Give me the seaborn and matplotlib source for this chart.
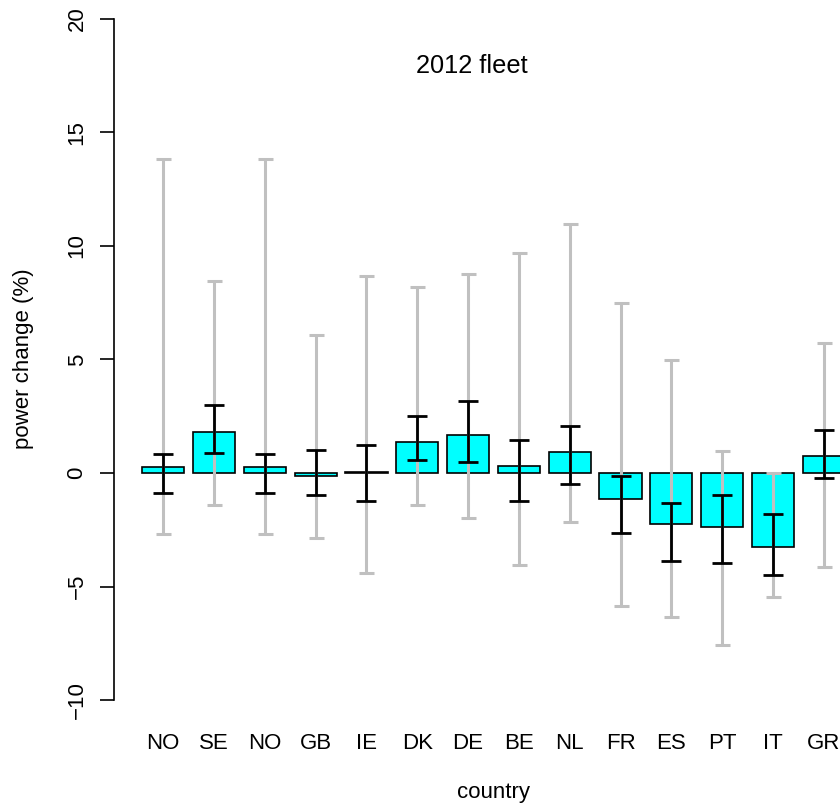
import matplotlib
matplotlib.use('Agg')
import matplotlib.pyplot as plt
import pandas as pd
import seaborn as sns

# Values
countries = ['NO', 'SE', 'NO', 'GB', 'IE', 'DK', 'DE', 'BE', 'NL', 'FR', 'ES', 'PT', 'IT', 'GR']
change = [0.26, 1.82, 0.26, -0.15, 0.03, 1.37, 1.66, 0.31, 0.91, -1.15, -2.25, -2.38, -3.26, 0.75]
ci_low = [-0.89, 0.89, -0.89, -0.98, -1.22, 0.57, 0.47, -1.22, -0.48, -2.66, -3.89, -3.95, -4.51, -0.22]
ci_high = [0.82, 3.01, 0.82, 1.00, 1.23, 2.52, 3.19, 1.44, 2.06, -0.15, -1.32, -0.96, -1.81, 1.89]
range_low = [-2.67, -1.40, -2.67, -2.85, -4.39, -1.42, -1.98, -4.05, -2.17, -5.85, -6.36, -7.59, -5.45, -4.13]
range_high = [13.82, 8.44, 13.82, 6.07, 8.68, 8.19, 8.78, 9.68, 10.98, 7.49, 4.98, 0.98, 0.0, 5.73]

df = pd.DataFrame({'pos': range(len(countries)), 'change': change,
                   'ci_low': ci_low, 'ci_high': ci_high,
                   'range_low': range_low, 'range_high': range_high})

sns.set_style('white')
plt.rcParams['font.family'] = ['Liberation Sans', 'DejaVu Sans']
plt.rcParams['text.color'] = 'black'

fig = plt.figure(figsize=(8.4, 8.05), dpi=100)
ax = fig.add_axes([114 / 840, 105 / 805, 726 / 840, 681 / 805])

sns.barplot(data=df, x='pos', y='change', ax=ax, color='#00FFFF', saturation=1,
            width=0.833, edgecolor='black', linewidth=1.2, errorbar=None)

# wide range (grey) then interval (black)
mid = (df['range_low'] + df['range_high']) / 2
half = (df['range_high'] - df['range_low']) / 2
ax.errorbar(df['pos'], mid, yerr=half, fmt='none', ecolor='#C0C0C0',
            elinewidth=2.2, capsize=5.4, capthick=2.2, zorder=3)
mid = (df['ci_low'] + df['ci_high']) / 2
half = (df['ci_high'] - df['ci_low']) / 2
ax.errorbar(df['pos'], mid, yerr=half, fmt='none', ecolor='black',
            elinewidth=2, capsize=7.2, capthick=2, zorder=4)

ax.set_xlim(-0.97, 13.32)
ax.set_ylim(-10, 20)
ax.set_yticks([-10, -5, 0, 5, 10, 15, 20])
ax.set_yticklabels(['\u221210', '\u22125', '0', '5', '10', '15', '20'], rotation=90, va='center')
ax.set_xticks(range(len(countries)))
ax.set_xticklabels(countries)
ax.tick_params(axis='x', length=0, pad=23.5, labelsize=16, labelcolor='black')
ax.tick_params(axis='y', left=True, length=10, width=1.2, pad=9, labelsize=16, colors='black')
ax.set_xlabel('')
ax.set_ylabel('')

for side in ['top', 'right', 'bottom']:
    ax.spines[side].set_visible(False)
ax.spines['left'].set_bounds(-10, 20)
ax.spines['left'].set_color('black')
ax.spines['left'].set_linewidth(1.2)

fig.text(472 / 840, 1 - 66 / 805, '2012 fleet', ha='center', va='center', fontsize=18.3)
fig.text(24 / 840, 1 - 359 / 805, 'power change (%)', rotation=90, ha='center', va='center', fontsize=16)
fig.text(494 / 840, 1 - 792 / 805, 'country', ha='center', va='center', fontsize=16)

fig.savefig('out.png', dpi=100)
